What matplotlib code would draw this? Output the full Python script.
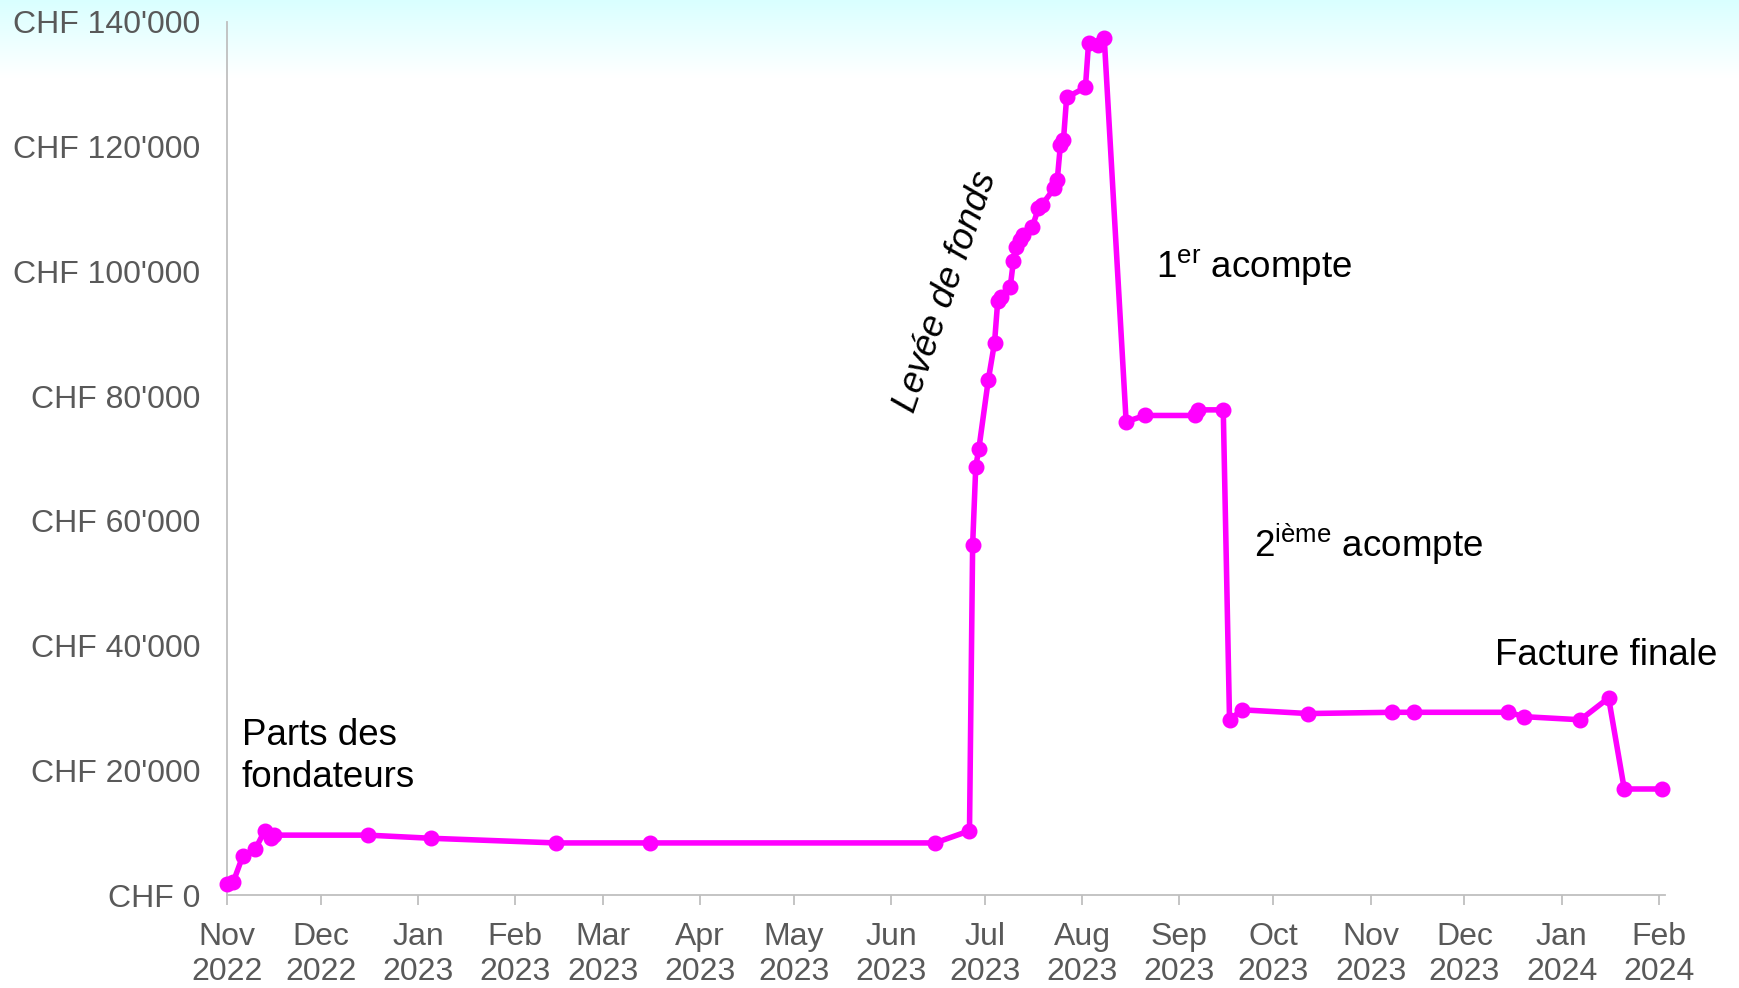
import numpy as np
import pandas as pd
import matplotlib
matplotlib.use("Agg")
import matplotlib.pyplot as plt
import matplotlib.dates as mdates
from matplotlib.ticker import FuncFormatter, MultipleLocator

plt.rcParams['font.family'] = ['Liberation Sans', 'DejaVu Sans']
plt.rcParams['mathtext.fontset'] = 'custom'
plt.rcParams['mathtext.rm'] = 'Liberation Sans'
plt.rcParams['mathtext.it'] = 'Liberation Sans:italic'

# ---- data ----
dates = [
    "2022-11-01", "2022-11-03", "2022-11-06", "2022-11-10", "2022-11-13",
    "2022-11-15", "2022-11-16", "2022-12-16", "2023-01-05", "2023-02-14",
    "2023-03-16", "2023-06-15", "2023-06-26", "2023-06-27", "2023-06-28",
    "2023-06-29", "2023-07-02", "2023-07-04", "2023-07-05", "2023-07-06",
    "2023-07-09", "2023-07-10", "2023-07-11", "2023-07-12", "2023-07-13",
    "2023-07-16", "2023-07-18", "2023-07-19", "2023-07-23", "2023-07-24",
    "2023-07-25", "2023-07-26", "2023-07-27", "2023-08-02", "2023-08-03",
    "2023-08-06", "2023-08-08", "2023-08-15", "2023-08-21", "2023-09-06",
    "2023-09-07", "2023-09-15", "2023-09-17", "2023-09-21", "2023-10-12",
    "2023-11-08", "2023-11-15", "2023-12-15", "2023-12-20", "2024-01-07",
    "2024-01-16", "2024-01-21", "2024-02-02",
]
balances = [
    1800, 2100, 6200, 7300, 10300,
    9100, 9600, 9600, 9100, 8350,
    8350, 8350, 10300, 56100, 68700,
    71600, 82600, 88600, 95200, 95900,
    97500, 101600, 103900, 105000, 105800,
    107100, 110100, 110600, 113300, 114600,
    120200, 121100, 127900, 129500, 136600,
    136300, 137500, 75900, 76900, 76900,
    77800, 77800, 28100, 29700, 29100,
    29300, 29300, 29300, 28600, 28100,
    31600, 17000, 17000,
]
annotations = ["Parts des\nfondateurs", "Levée de fonds",
               r"1$^{\mathrm{er}}$ acompte", r"2$^{\mathrm{ième}}$ acompte",
               "Facture finale"]

x = pd.to_datetime(dates)

W, H = 1740, 988
fig = plt.figure(figsize=(W / 100, H / 100), dpi=100)

# background gradient (light cyan at top fading to white)
bg = fig.add_axes([0, 0, 1, 1], zorder=-10)
bg.set_axis_off()
rows = np.linspace(0, H, H)  # pixel from top
t = np.clip(rows / 78.0, 0, 1)[:, None]
top = np.array([0.85, 1.0, 1.0])
img = (1 - t)[..., None] * top + t[..., None] * np.array([1.0, 1.0, 1.0])
img = np.repeat(img, 4, axis=1)
bg.imshow(img, aspect='auto', extent=[0, 1, 0, 1], origin='upper')
bg.set_xlim(0, 1)
bg.set_ylim(0, 1)

left, right, bottom, top_px = 227, 1665, 895, 22
ax = fig.add_axes([left / W, 1 - bottom / H, (right - left) / W, (bottom - top_px) / H])
ax.patch.set_alpha(0)

ax.plot(x, balances, color='#ff00ff', lw=4.0, marker='o', ms=10.5,
        solid_joinstyle='round', clip_on=False, zorder=5)

ax.set_ylim(0, 140000)
ax.set_xlim(pd.Timestamp("2022-11-01"), pd.Timestamp("2024-02-03"))

ax.yaxis.set_major_locator(MultipleLocator(20000))
ax.yaxis.set_major_formatter(FuncFormatter(lambda v, p: "CHF " + f"{int(v):,}".replace(",", "'")))
ax.xaxis.set_major_locator(mdates.MonthLocator())
ax.xaxis.set_major_formatter(mdates.DateFormatter('%b\n%Y'))

for s in ['top', 'right']:
    ax.spines[s].set_visible(False)
for s in ['left', 'bottom']:
    ax.spines[s].set_color('#bfbfbf')
    ax.spines[s].set_linewidth(1.3)

ax.tick_params(axis='y', length=0, pad=19, labelsize=23, labelcolor='#595959')
ax.tick_params(axis='x', length=7, width=1.3, color='#bfbfbf', pad=12.5,
               labelsize=23, labelcolor='#595959')
for lbl in ax.get_xticklabels():
    lbl.set_linespacing(1.2)

fs = 26.5
def fx(px):
    return (px - left) / (right - left)
def fy(py):
    return (bottom - py) / (bottom - top_px)

ax.text(fx(242), fy(787), annotations[0], transform=ax.transAxes, fontsize=fs,
        ha='left', va='baseline', linespacing=1.27, color='black')
ax.text(fx(946), fy(292), annotations[1], transform=ax.transAxes, fontsize=fs,
        ha='center', va='center', rotation=71, rotation_mode='anchor',
        style='italic', color='black')
ax.text(fx(1156), fy(277), annotations[2], transform=ax.transAxes, fontsize=fs,
        ha='left', va='baseline', color='black')
ax.text(fx(1254), fy(557), annotations[3], transform=ax.transAxes, fontsize=fs,
        ha='left', va='baseline', color='black')
ax.text(fx(1495), fy(665), annotations[4], transform=ax.transAxes, fontsize=fs,
        ha='left', va='baseline', color='black', clip_on=False)

fig.savefig("out.png", dpi=100)
